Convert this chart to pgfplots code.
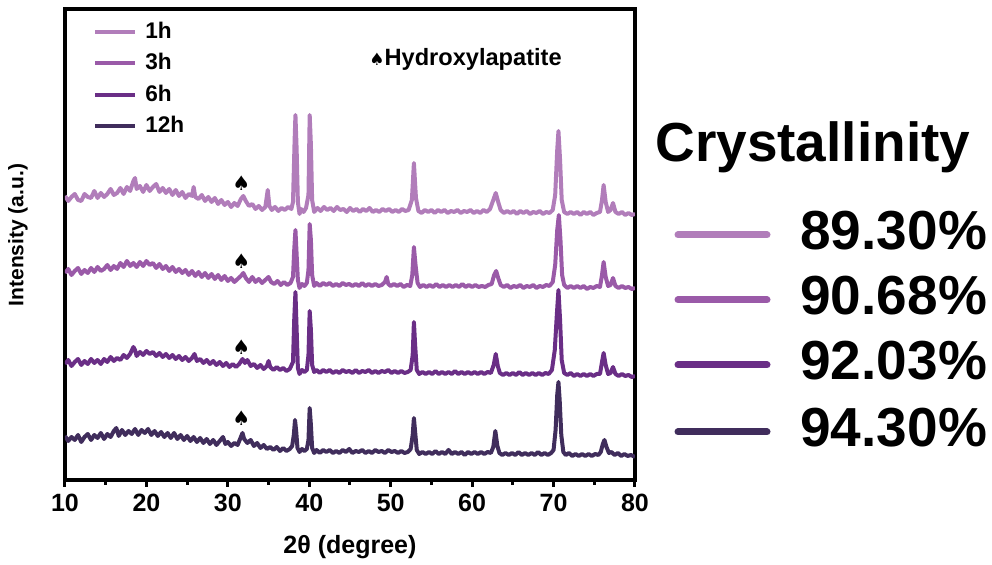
\documentclass[border=0pt]{standalone}
\usepackage{fontspec}
\setmainfont{Liberation Sans}
\newfontfamily\dejavu{DejaVu Sans}
\usepackage{pgfplots}
\pgfplotsset{compat=1.18}
\definecolor{hA}{HTML}{B17DBA}
\definecolor{hB}{HTML}{9A5AA8}
\definecolor{hC}{HTML}{6A2E86}
\definecolor{hD}{HTML}{402D5C}
\begin{document}
\begin{tikzpicture}[x=1pt,y=1pt]
\useasboundingbox (0,0) rectangle (496,282.5);
\begin{axis}[at={(32.5pt,42.5pt)},anchor=south west,scale only axis,
width=285pt,height=235.5pt,xmin=10,xmax=80,ymin=0,ymax=471,
xtick={10,20,...,80},minor xtick={15,25,...,75},ytick=\empty,
tick align=outside,xtick pos=bottom,major tick length=3.5pt,minor tick length=2.5pt,
axis line style={line width=2.2pt},tick style={line width=1.5pt,black},
/pgf/number format/assume math mode=true,
ticklabel style={font=\bfseries\fontsize{12.5}{14}\selectfont},
xlabel={2θ (degree)},ylabel={Intensity (a.u.)},
every axis x label/.style={at={(axis description cs:0.5,-0.1423)},anchor=center,font=\bfseries\fontsize{12.5}{14}\selectfont},
every axis y label/.style={at={(axis description cs:-0.0825,0.52)},rotate=90,anchor=center,font=\bfseries\fontsize{10.5}{12}\selectfont},
legend style={at={(0.049,0.977)},anchor=north west,draw=none,fill=none,inner sep=0pt,
  font=\bfseries\fontsize{11.3}{13}\selectfont,row sep=4pt,column sep=3pt,nodes={inner sep=1pt}},
legend cell align=left,
legend image code/.code={\draw[#1,line width=2pt] (0pt,0pt) -- (20pt,0pt);},
every axis plot/.append style={line width=2pt,line join=round}]
\addplot[hA] coordinates {(10.0,284) (10.4,279) (10.8,283) (11.2,286) (11.6,280) (12.0,279) (12.4,286) (12.8,283) (13.2,282) (13.6,289) (14.0,282) (14.4,287) (14.8,283) (15.2,286) (15.6,291) (16.0,285) (16.4,287) (16.8,292) (17.2,286) (17.6,293) (18.0,289) (18.4,299) (18.6,302) (18.8,291) (19.2,294) (19.6,288) (20.0,295) (20.4,289) (20.8,293) (21.2,296) (21.6,288) (22.0,292) (22.4,287) (22.8,291) (23.2,285) (23.6,290) (24.0,284) (24.4,288) (24.8,282) (25.2,286) (25.6,284) (25.8,293) (26.0,283) (26.4,281) (26.8,285) (27.2,279) (27.6,283) (28.0,278) (28.4,282) (28.8,276) (29.2,280) (29.6,275) (30.0,278) (30.4,273) (30.8,277) (31.2,274) (31.6,281) (31.9,284) (32.2,279) (32.6,274) (33.0,276) (33.4,271) (33.8,274) (34.2,270) (34.6,273) (34.9,290) (35.1,274) (35.4,270) (35.8,273) (36.2,269) (36.6,272) (37.0,270) (37.4,273) (37.8,271) (38.0,278) (38.2,340) (38.3,365) (38.45,330) (38.6,278) (38.8,266) (39.0,271) (39.3,268) (39.6,272) (39.9,285) (40.05,365) (40.2,335) (40.35,280) (40.6,268) (41.0,272) (41.4,269) (41.8,273) (42.2,270) (42.6,272) (43.0,269) (43.4,273) (43.8,270) (44.2,271) (44.6,268) (45.0,272) (45.4,269) (45.8,271) (46.2,268) (46.6,271) (47.0,269) (47.4,272) (47.8,268) (48.2,270) (48.6,268) (49.0,271) (49.4,269) (49.8,271) (50.2,268) (50.6,270) (51.0,268) (51.4,271) (51.8,269) (52.2,270) (52.6,280) (52.85,317) (53.1,282) (53.4,269) (53.8,267) (54.2,270) (54.6,268) (55.0,270) (55.4,267) (55.8,270) (56.2,268) (56.6,270) (57.0,267) (57.4,269) (57.8,268) (58.2,270) (58.6,267) (59.0,269) (59.4,268) (59.8,270) (60.2,267) (60.6,269) (61.0,267) (61.4,270) (61.8,268) (62.2,271) (62.6,280) (62.9,287) (63.2,278) (63.5,270) (63.9,267) (64.3,269) (64.7,267) (65.1,269) (65.5,266) (65.9,269) (66.3,267) (66.7,269) (67.1,266) (67.5,268) (67.9,267) (68.3,269) (68.7,266) (69.1,268) (69.5,267) (69.9,270) (70.2,285) (70.45,330) (70.6,349) (70.8,320) (71.0,280) (71.3,268) (71.7,266) (72.1,268) (72.5,266) (72.9,268) (73.3,265) (73.7,268) (74.1,266) (74.5,268) (74.9,265) (75.3,267) (75.7,268) (75.95,280) (76.15,295) (76.4,278) (76.7,268) (77.0,270) (77.3,277) (77.6,268) (78.0,266) (78.4,268) (78.8,265) (79.2,267) (79.6,265) (80.0,266)};
\addlegendentry{1h}
\addplot[hB] coordinates {(10.0,207) (10.4,211) (10.8,205) (11.2,209) (11.6,212) (12.0,206) (12.4,210) (12.8,207) (13.2,212) (13.6,208) (14.0,213) (14.4,209) (14.8,211) (15.2,215) (15.6,210) (16.0,214) (16.4,211) (16.8,217) (17.2,213) (17.6,219) (18.0,214) (18.4,217) (18.8,213) (19.2,218) (19.6,214) (20.0,219) (20.4,215) (20.8,217) (21.2,212) (21.6,216) (22.0,211) (22.4,214) (22.8,209) (23.2,213) (23.6,208) (24.0,211) (24.4,207) (24.8,210) (25.2,205) (25.6,209) (26.0,204) (26.4,208) (26.8,203) (27.2,207) (27.6,202) (28.0,206) (28.4,201) (28.8,205) (29.2,200) (29.6,204) (30.0,199) (30.4,202) (30.8,198) (31.2,201) (31.6,204) (31.9,207) (32.2,202) (32.6,198) (33.0,203) (33.4,198) (33.8,201) (34.2,197) (34.6,200) (35.0,203) (35.3,198) (35.7,196) (36.1,199) (36.5,195) (36.9,198) (37.3,195) (37.7,197) (38.0,203) (38.15,230) (38.3,250) (38.45,225) (38.6,200) (38.8,192) (39.1,196) (39.4,194) (39.7,197) (39.9,210) (40.05,256) (40.2,240) (40.35,205) (40.6,194) (40.9,197) (41.3,194) (41.7,197) (42.1,195) (42.5,197) (42.9,194) (43.3,196) (43.7,194) (44.1,197) (44.5,195) (44.9,196) (45.3,194) (45.7,196) (46.1,194) (46.5,197) (46.9,194) (47.3,196) (47.7,194) (48.1,196) (48.5,194) (48.9,195) (49.3,198) (49.5,203) (49.7,196) (50.0,194) (50.4,196) (50.8,194) (51.2,196) (51.6,193) (52.0,195) (52.4,194) (52.65,205) (52.85,233) (53.05,215) (53.3,197) (53.6,193) (54.0,195) (54.4,193) (54.8,195) (55.2,193) (55.6,196) (56.0,193) (56.4,195) (56.8,193) (57.2,195) (57.6,193) (58.0,195) (58.4,193) (58.8,196) (59.2,193) (59.6,195) (60.0,193) (60.4,195) (60.8,193) (61.2,194) (61.6,193) (62.0,195) (62.4,196) (62.7,205) (62.95,209) (63.2,202) (63.5,195) (63.9,193) (64.3,195) (64.7,192) (65.1,194) (65.5,193) (65.9,195) (66.3,192) (66.7,194) (67.1,193) (67.5,195) (67.9,192) (68.3,194) (68.7,193) (69.1,195) (69.5,194) (69.9,198) (70.2,215) (70.45,250) (70.65,265) (70.85,240) (71.05,205) (71.3,195) (71.7,192) (72.1,194) (72.5,192) (72.9,194) (73.3,192) (73.7,194) (74.1,191) (74.5,193) (74.9,192) (75.3,194) (75.7,193) (75.95,205) (76.15,218) (76.4,203) (76.7,194) (77.0,195) (77.3,202) (77.6,194) (78.0,192) (78.4,194) (78.8,192) (79.2,193) (79.6,191) (80.0,192)};
\addlegendentry{3h}
\addplot[hC] coordinates {(10.0,116) (10.4,120) (10.8,114) (11.2,118) (11.6,121) (12.0,115) (12.4,119) (12.8,116) (13.2,121) (13.6,117) (14.0,120) (14.4,116) (14.8,121) (15.2,118) (15.6,123) (16.0,119) (16.4,122) (16.8,120) (17.2,125) (17.6,122) (18.0,126) (18.4,133) (18.6,130) (18.8,124) (19.2,128) (19.6,125) (20.0,129) (20.4,126) (20.8,128) (21.2,124) (21.6,127) (22.0,123) (22.4,126) (22.8,122) (23.2,125) (23.6,121) (24.0,124) (24.4,120) (24.8,123) (25.2,119) (25.6,122) (25.9,126) (26.2,119) (26.6,121) (27.0,117) (27.4,120) (27.8,116) (28.2,119) (28.6,115) (29.0,118) (29.4,114) (29.8,117) (30.2,113) (30.6,116) (31.0,113) (31.4,116) (31.8,121) (32.1,117) (32.4,120) (32.8,114) (33.2,116) (33.6,112) (34.0,115) (34.4,111) (34.8,114) (35.0,119) (35.2,113) (35.6,110) (36.0,113) (36.4,110) (36.8,112) (37.2,109) (37.6,111) (38.0,118) (38.15,160) (38.3,188) (38.45,150) (38.6,112) (38.8,106) (39.1,110) (39.4,108) (39.7,110) (39.9,125) (40.05,169) (40.2,150) (40.35,115) (40.6,108) (40.9,110) (41.3,107) (41.7,110) (42.1,108) (42.5,110) (42.9,107) (43.3,109) (43.7,107) (44.1,110) (44.5,108) (44.9,109) (45.3,107) (45.7,110) (46.1,107) (46.5,109) (46.9,108) (47.3,110) (47.7,107) (48.1,109) (48.5,107) (48.9,109) (49.3,108) (49.7,110) (50.1,107) (50.5,109) (50.9,107) (51.3,109) (51.7,107) (52.1,108) (52.45,110) (52.7,125) (52.85,158) (53.0,135) (53.2,110) (53.5,106) (53.9,108) (54.3,106) (54.7,108) (55.1,106) (55.5,109) (55.9,106) (56.3,108) (56.7,106) (57.1,108) (57.5,106) (57.9,109) (58.3,106) (58.7,108) (59.1,106) (59.5,108) (59.9,106) (60.3,108) (60.7,106) (61.1,108) (61.5,106) (61.9,108) (62.3,107) (62.65,115) (62.9,126) (63.15,114) (63.4,107) (63.8,105) (64.2,107) (64.6,105) (65.0,107) (65.4,105) (65.8,108) (66.2,105) (66.6,107) (67.0,105) (67.4,107) (67.8,105) (68.2,107) (68.6,105) (69.0,107) (69.4,106) (69.8,110) (70.15,130) (70.4,165) (70.6,190) (70.8,160) (71.0,120) (71.3,107) (71.7,105) (72.1,107) (72.5,104) (72.9,106) (73.3,104) (73.7,106) (74.1,104) (74.5,106) (74.9,104) (75.3,106) (75.7,106) (75.95,118) (76.15,127) (76.4,115) (76.7,106) (77.0,107) (77.3,113) (77.6,106) (78.0,104) (78.4,106) (78.8,104) (79.2,105) (79.6,103) (80.0,104)};
\addlegendentry{6h}
\addplot[hD] coordinates {(10.0,44) (10.4,39) (10.8,43) (11.2,40) (11.6,45) (12.0,38) (12.4,43) (12.8,46) (13.2,40) (13.6,45) (14.0,42) (14.4,47) (14.8,41) (15.2,46) (15.6,43) (16.0,49) (16.3,52) (16.6,44) (17.0,50) (17.4,45) (17.8,49) (18.2,46) (18.6,51) (19.0,45) (19.4,50) (19.8,47) (20.2,51) (20.6,45) (21.0,49) (21.4,44) (21.8,48) (22.2,43) (22.6,47) (23.0,42) (23.4,47) (23.8,41) (24.2,45) (24.6,40) (25.0,44) (25.4,39) (25.8,43) (26.2,38) (26.6,42) (27.0,37) (27.4,41) (27.8,36) (28.2,40) (28.6,35) (29.0,39) (29.4,43) (29.7,36) (30.0,38) (30.4,34) (30.8,37) (31.2,35) (31.6,43) (31.8,47) (32.0,41) (32.4,37) (32.8,40) (33.2,34) (33.6,37) (34.0,32) (34.4,35) (34.8,31) (35.2,33) (35.6,30) (36.0,33) (36.4,29) (36.8,32) (37.2,29) (37.6,31) (37.9,34) (38.1,45) (38.25,60) (38.4,48) (38.55,32) (38.8,28) (39.1,31) (39.4,29) (39.7,31) (39.9,40) (40.05,72) (40.2,55) (40.35,32) (40.6,27) (40.9,30) (41.3,27) (41.7,30) (42.1,28) (42.5,30) (42.9,27) (43.3,29) (43.7,27) (44.1,30) (44.5,28) (44.9,31) (45.3,27) (45.7,29) (46.1,28) (46.5,30) (46.9,27) (47.3,29) (47.7,27) (48.1,30) (48.5,28) (48.9,29) (49.3,27) (49.7,30) (50.1,28) (50.5,29) (50.9,27) (51.3,29) (51.7,27) (52.1,28) (52.45,31) (52.7,45) (52.85,62) (53.0,48) (53.2,30) (53.5,26) (53.9,28) (54.3,26) (54.7,28) (55.1,26) (55.5,29) (55.9,26) (56.3,28) (56.7,26) (57.1,30) (57.5,26) (57.9,28) (58.3,26) (58.7,28) (59.1,25) (59.5,28) (59.9,26) (60.3,28) (60.7,26) (61.1,28) (61.5,26) (61.9,28) (62.3,27) (62.6,33) (62.85,49) (63.1,34) (63.35,27) (63.7,25) (64.1,27) (64.5,25) (64.9,27) (65.3,25) (65.7,28) (66.1,25) (66.5,27) (66.9,25) (67.3,27) (67.7,25) (68.1,28) (68.5,25) (68.9,27) (69.3,25) (69.7,27) (70.0,30) (70.25,50) (70.45,85) (70.6,98) (70.75,80) (70.95,45) (71.2,28) (71.5,25) (71.9,27) (72.3,24) (72.7,26) (73.1,24) (73.5,26) (73.9,24) (74.3,26) (74.7,24) (75.1,26) (75.5,25) (75.8,28) (76.05,36) (76.25,40) (76.5,33) (76.8,27) (77.1,28) (77.5,25) (77.9,27) (78.3,24) (78.7,26) (79.1,24) (79.5,25) (80.0,23)};
\addlegendentry{12h}
\addplot[forget plot,draw=none,nodes near coords={\dejavu\fontsize{10}{10}\selectfont ♠},
  every node near coord/.append style={anchor=center,inner sep=0pt,black}]
  coordinates {(31.65,297) (31.65,219) (31.65,133) (31.65,62)};
\end{axis}
\node[anchor=base west,inner sep=0pt,font=\bfseries\fontsize{11.8}{13}\selectfont] at (184.5,249.5)
  {{\dejavu\fontsize{8.5}{9}\selectfont ♠}Hydroxylapatite};
\node[anchor=base west,inner sep=0pt,font=\bfseries\fontsize{27.5}{30}\selectfont] at (327.5,201.5) {Crystallinity};
\foreach \c/\ly/\ty/\t in {hA/165/157.5/89.30\%,hB/132.5/125/90.68\%,hC/100/92.5/92.03\%,hD/66.5/59/94.30\%}{
  \draw[\c,line width=3.5pt,line cap=round] (339,\ly) -- (383.5,\ly);
  \node[anchor=base west,inner sep=0pt,font=\bfseries\fontsize{27.5}{30}\selectfont] at (400,\ty) {\t};
}
\end{tikzpicture}
\end{document}
